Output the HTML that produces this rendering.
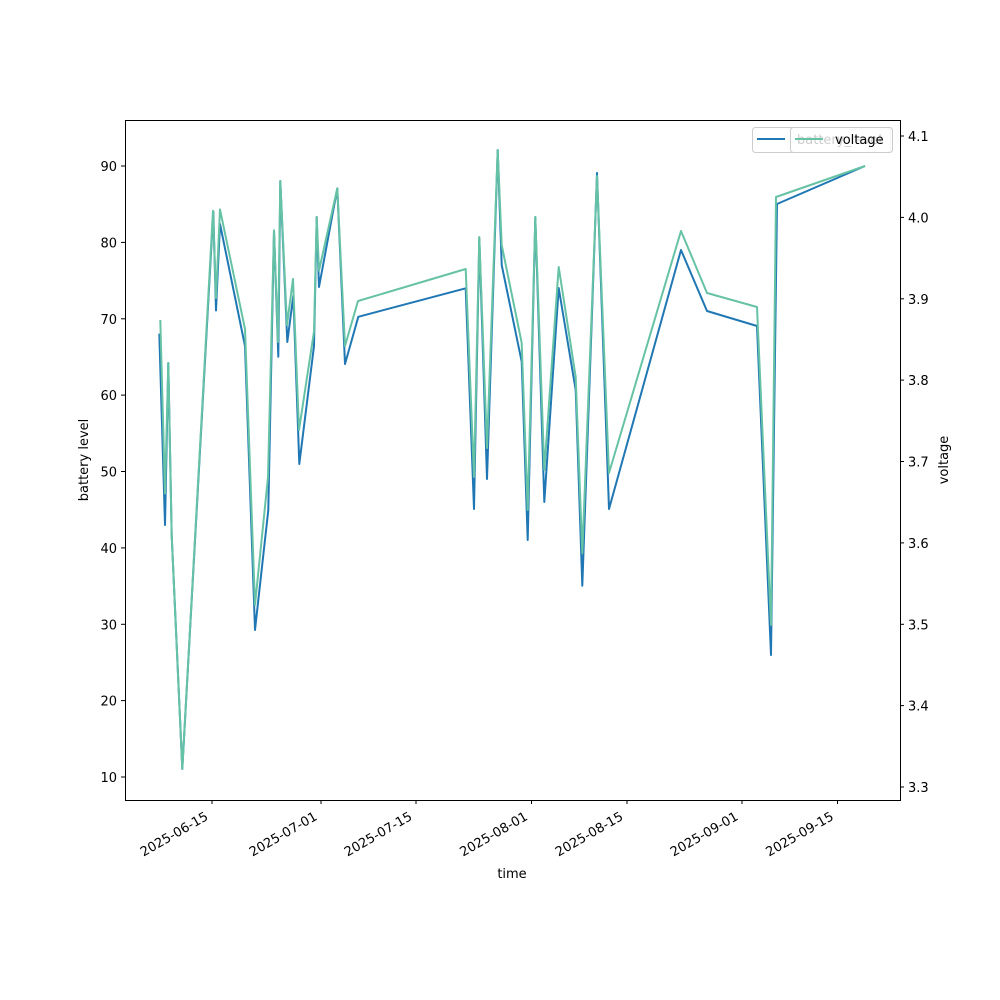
<!DOCTYPE html>
<html><head><meta charset="utf-8"><style>body{margin:0;background:#fff}svg{display:block}text{font-family:"DejaVu Sans","Liberation Sans",sans-serif;font-size:13px;fill:#000}</style></head><body>
<svg width="1000" height="1000" viewBox="0 0 1000 1000" xmlns="http://www.w3.org/2000/svg">
<rect x="0" y="0" width="1000" height="1000" fill="#fff"/>
<g fill="none" stroke-linejoin="round" stroke-width="2">
<polyline stroke="#1f77b4" points="159.3,333.6 165,525 168.3,363 171.7,535.6 182.3,769 213.3,211.5 216,310.5 220,224 245,346 255,630 268.3,510 274,230.5 278.3,356.7 280.3,181 287.3,342 293.3,295.7 299.3,464 314,346 316.7,217 319,287 337.3,188.4 345,364 358.3,316.8 465.7,288.3 474,509 479.3,238 487,479 497.7,150 501.7,265 521.7,361.7 527.7,540 535.3,217 544.3,502 558.7,288 575.7,390 582.3,585.7 597,173 609,509 681,250 707,311 757,326 771,655 777,204 865,166"/>
<polyline stroke="#66c2a5" points="160.3,320 165,493.5 168.3,363 171.7,535.6 182.3,769 213,210.7 216,298 220,209.4 245,329 255,605 268,477 274,230.5 278,342 280.3,181 287,325 293,279 299,430 314,331.5 316.7,217 319,270.5 337.3,188.4 345,346 358,301 465.7,269 474,477 479.3,237 487,448 497.7,150 501.7,245 521.7,343 527.7,510 535.3,217 544.3,470 558.7,267 575.7,377 582.3,553 597,176 609,473 681,231 707,293 757,307 771,625 776,197 865,166"/>
</g>
<rect x="125.5" y="120.5" width="775" height="680" fill="none" stroke="#000" stroke-width="1"/>
<g stroke="#000" stroke-width="1">
<line x1="125" y1="777" x2="121" y2="777"/><line x1="125" y1="700.6" x2="121" y2="700.6"/><line x1="125" y1="624.3" x2="121" y2="624.3"/><line x1="125" y1="547.9" x2="121" y2="547.9"/><line x1="125" y1="471.5" x2="121" y2="471.5"/><line x1="125" y1="395.1" x2="121" y2="395.1"/><line x1="125" y1="318.8" x2="121" y2="318.8"/><line x1="125" y1="242.4" x2="121" y2="242.4"/><line x1="125" y1="166" x2="121" y2="166"/>
<line x1="900" y1="787" x2="904" y2="787"/><line x1="900" y1="705.6" x2="904" y2="705.6"/><line x1="900" y1="624.3" x2="904" y2="624.3"/><line x1="900" y1="542.9" x2="904" y2="542.9"/><line x1="900" y1="461.5" x2="904" y2="461.5"/><line x1="900" y1="380.1" x2="904" y2="380.1"/><line x1="900" y1="298.8" x2="904" y2="298.8"/><line x1="900" y1="217.4" x2="904" y2="217.4"/><line x1="900" y1="136" x2="904" y2="136"/>
<line x1="212" y1="800" x2="212" y2="804"/><line x1="321" y1="800" x2="321" y2="804"/><line x1="416" y1="800" x2="416" y2="804"/><line x1="531.5" y1="800" x2="531.5" y2="804"/><line x1="627" y1="800" x2="627" y2="804"/><line x1="742" y1="800" x2="742" y2="804"/><line x1="837.5" y1="800" x2="837.5" y2="804"/>
</g>
<g text-anchor="end">
<text x="117" y="782">10</text><text x="117" y="705.6">20</text><text x="117" y="629.3">30</text><text x="117" y="552.9">40</text><text x="117" y="476.5">50</text><text x="117" y="400.1">60</text><text x="117" y="323.8">70</text><text x="117" y="247.4">80</text><text x="117" y="171">90</text>
</g>
<g>
<text x="908" y="792">3.3</text><text x="908" y="710.6">3.4</text><text x="908" y="629.3">3.5</text><text x="908" y="547.9">3.6</text><text x="908" y="466.5">3.7</text><text x="908" y="385.1">3.8</text><text x="908" y="303.8">3.9</text><text x="908" y="222.4">4.0</text><text x="908" y="141">4.1</text>
</g>
<g text-anchor="end">
<text transform="translate(209,819) rotate(-30)">2025-06-15</text>
<text transform="translate(318,819) rotate(-30)">2025-07-01</text>
<text transform="translate(413,819) rotate(-30)">2025-07-15</text>
<text transform="translate(528.5,819) rotate(-30)">2025-08-01</text>
<text transform="translate(624,819) rotate(-30)">2025-08-15</text>
<text transform="translate(739,819) rotate(-30)">2025-09-01</text>
<text transform="translate(834.5,819) rotate(-30)">2025-09-15</text>
</g>
<text x="512" y="878" text-anchor="middle">time</text>
<text transform="translate(88,460) rotate(-90)" text-anchor="middle">battery level</text>
<text transform="translate(948,460) rotate(-90)" text-anchor="middle">voltage</text>
<rect x="752.5" y="127.5" width="138" height="25" rx="3" fill="#fff" fill-opacity="0.8" stroke="#ccc"/>
<line x1="757" y1="139" x2="785" y2="139" stroke="#1f77b4" stroke-width="2"/>
<text x="797" y="144">battery_level</text>
<rect x="790.5" y="127.5" width="102" height="25" rx="3" fill="#fff" fill-opacity="0.8" stroke="#ccc"/>
<line x1="795" y1="139" x2="823" y2="139" stroke="#66c2a5" stroke-width="2"/>
<text x="835" y="144">voltage</text>
</svg>
</body></html>
